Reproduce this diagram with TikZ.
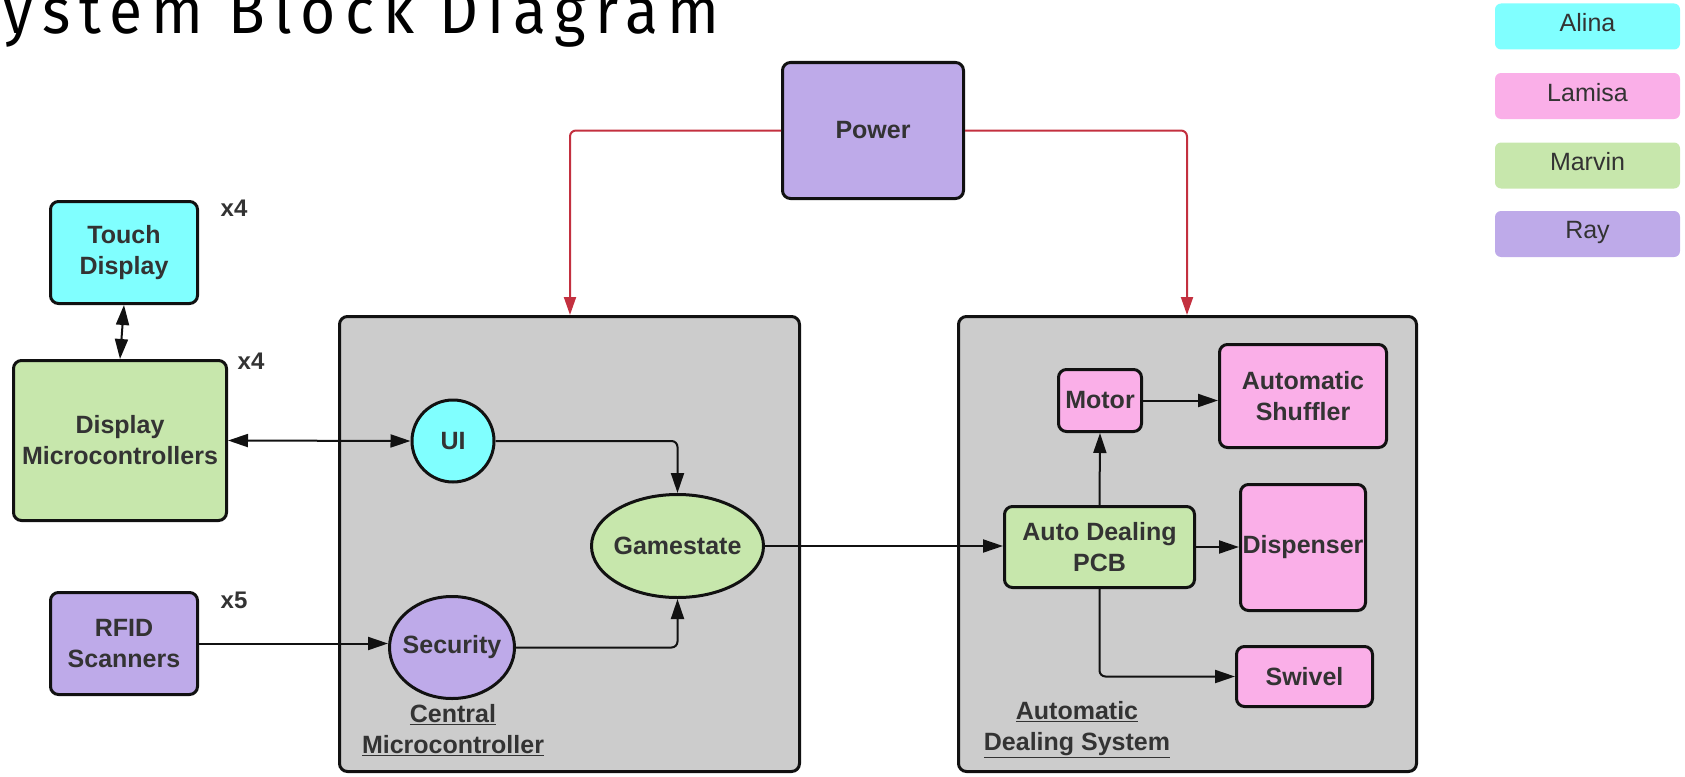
\documentclass[tikz,border=0pt]{standalone}
\usepackage{fontspec}
\setmainfont{Liberation Sans}
\newfontfamily\titlefont[LetterSpace=15]{Fira Sans}
\usetikzlibrary{shapes.geometric,arrows.meta}

\definecolor{alinac}{HTML}{80FFFF}
\definecolor{lamisac}{HTML}{FAAFE8}
\definecolor{marvinc}{HTML}{C7E7AC}
\definecolor{rayc}{HTML}{BEAAE9}
\definecolor{groupc}{HTML}{CCCCCC}
\definecolor{edgec}{HTML}{111111}
\definecolor{txtc}{HTML}{333333}
\definecolor{powerc}{HTML}{C3303F}

\tikzset{
  lbl/.style={font=\bfseries\fontsize{25}{31}\selectfont, text=txtc, align=center},
  block/.style={lbl, draw=edgec, line width=3pt, rounded corners=8pt, inner sep=0pt},
  roundel/.style={lbl, draw=edgec, line width=3pt, ellipse, inner sep=0pt},
  group/.style={draw=edgec, fill=groupc, line width=3pt, rounded corners=8pt, inner sep=0pt},
  legend/.style={rounded corners=6pt, inner sep=0pt, minimum width=185, minimum height=46,
                 text depth=8pt, font=\fontsize{25}{30}\selectfont, text=txtc},
  count/.style={font=\bfseries\fontsize{24}{28}\selectfont, text=txtc},
  conn/.style={draw=edgec, line width=2pt, rounded corners=6pt,
               -{Triangle[length=20pt,width=13pt]}},
  biconn/.style={draw=edgec, line width=2pt,
               {Triangle[length=20pt,width=13pt]}-{Triangle[length=20pt,width=13pt]}},
  feed/.style={draw=powerc, line width=2pt, rounded corners=6pt,
               -{Triangle[length=18pt,width=12pt]}}
}

\begin{document}
\begin{tikzpicture}[x=1pt,y=-1pt]
\useasboundingbox (0,0) rectangle (1685,776);

% heading
\node[anchor=base west, inner sep=0pt]
  (title) at (-38,34) {\scalebox{1.1}[1.18]{\titlefont\fontsize{55}{60}\selectfont System Block Diagram}};

% legend
\node[legend, fill=alinac]  (lgA) at (1587.5,26.5)  {Alina};
\node[legend, fill=lamisac] (lgL) at (1587.5,96)    {Lamisa};
\node[legend, fill=marvinc] (lgM) at (1587.5,165.5) {Marvin};
\node[legend, fill=rayc]    (lgR) at (1587.5,234)   {Ray};

% subsystem containers
\node[group, minimum width=460, minimum height=455] (cm)  at (569.5,544) {};
\node[group, minimum width=458, minimum height=455] (ads) at (1187.5,544) {};
\node[lbl] (cmLabel)  at (453,730)  {\underline{Central}\\\underline{Microcontroller}};
\node[lbl] (adsLabel) at (1077,730) {\underline{Automatic}\\\underline{Dealing System}};

% power supply
\node[block, fill=rayc, minimum width=181, minimum height=136] (power) at (873,130.5) {Power};

% external blocks
\node[block, fill=alinac,  minimum width=147, minimum height=102] (touch) at (124,252.5) {Touch\\Display};
\node[block, fill=marvinc, minimum width=213, minimum height=160] (dmc)   at (120,440.5) {Display\\Microcontrollers};
\node[block, fill=rayc,    minimum width=147, minimum height=102] (rfid)  at (124,643.5) {RFID\\Scanners};
\node[count] (nTouch) at (234,208) {x4};
\node[count] (nDmc)   at (251,361) {x4};
\node[count] (nRfid)  at (234,600) {x5};

% central microcontroller contents (labels kept zero-width so the ellipse size is fixed)
\node[roundel, fill=alinac,  minimum width=82,  minimum height=82]  (ui)   at (453,441)   {\makebox[0pt]{UI}};
\node[roundel, fill=marvinc, minimum width=172, minimum height=103] (game) at (677.5,546) {\makebox[0pt]{Gamestate}};
\node[roundel, fill=rayc,    minimum width=125, minimum height=102] (sec)  at (452,647.5) {\makebox[0pt]{Security}};

% automatic dealing system contents
\node[block, fill=lamisac, minimum width=83,  minimum height=62]  (motor) at (1100,400.5)  {Motor};
\node[block, fill=lamisac, minimum width=167, minimum height=103] (shuf)  at (1303,396)    {Automatic\\Shuffler};
\node[block, fill=marvinc, minimum width=190, minimum height=81]  (pcb)   at (1099.5,547)  {Auto Dealing\\PCB};
\node[block, fill=lamisac, minimum width=125, minimum height=126] (disp)  at (1303,547.5)  {Dispenser};
\node[block, fill=lamisac, minimum width=136, minimum height=60]  (swiv)  at (1304.5,676.5) {Swivel};

% power feeds
\coordinate (cmIn)  at (570,315);
\coordinate (adsIn) at (1187,315);
\draw[feed] (power.west) -| (cmIn);
\draw[feed] (power.east) -| (adsIn);

% signal paths
\draw[biconn] (touch.south) -- (dmc.north);
\draw[biconn] (dmc.east) -- (ui.west);
\draw[conn] (rfid.east) -- (rfid.east -| sec.west);
\draw[conn] (ui.east) -| (game.north);
\draw[conn] (sec.east) -| (game.south);
\draw[conn] (game.east) -- (game.east -| pcb.west);
\draw[conn] (pcb.north) -- (motor.south);
\draw[conn] (motor.east) -- (motor.east -| shuf.west);
\draw[conn] (pcb.east) -- (pcb.east -| disp.west);
\draw[conn] (pcb.south) |- (swiv.west);
\end{tikzpicture}
\end{document}
